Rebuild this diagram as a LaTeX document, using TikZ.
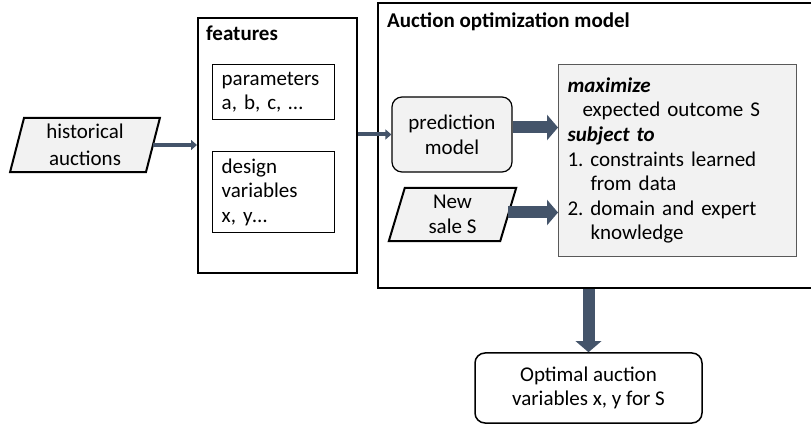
\documentclass[tikz,border=0pt]{standalone}
\usepackage{fontspec}
\setmainfont{Carlito}
\usetikzlibrary{arrows.meta,backgrounds}
\definecolor{arr}{HTML}{44546A}
\definecolor{lg}{HTML}{F2F2F2}
\begin{document}
\frenchspacing
\begin{tikzpicture}[x=1pt,y=-1pt,
  font=\fontsize{21}{24.6}\selectfont\frenchspacing,
  bigbox/.style={draw=black, line width=2.4pt, anchor=north west, inner sep=0pt},
  inbox/.style={draw=black, line width=1.4pt, anchor=north west, inner xsep=9pt, inner ysep=0pt, align=left},
  para/.style={draw=black, line width=2pt, fill=lg, line join=miter},
  rbox/.style={draw=black, line width=1.2pt, fill=lg, rounded corners=10pt, align=center},
  thinarrow/.style={draw=arr, line width=4pt, -{Triangle[length=6pt,width=10pt]}},
  fatarrow/.style={draw=arr, line width=12pt, -{Triangle[length=11pt,width=25pt]}},
  title/.style={anchor=base west, inner sep=0pt, font=\fontsize{21}{24.6}\selectfont\bfseries}
]
\useasboundingbox (0,0) rectangle (811,427);

% outer boxes
\node[bigbox, minimum width=159pt, minimum height=255pt] (feat) at (197,17) {};
\node[title] (feattitle) at (206,41) {features};
\node[bigbox, minimum width=437pt, minimum height=285pt] (aom) at (377,2) {};
\node[title] (aomtitle) at (387,28) {Auction optimization model};

% feature sub-boxes
\node[inbox, text width=104pt, minimum height=55pt] (params) at (212,64)
  {parameters\\a, b, c, …};
\node[inbox, text width=104pt, minimum height=81pt] (design) at (212,151)
  {design\\variables\\x, y…};

% historical auctions (parallelogram)
\node[minimum width=135.5pt, minimum height=54pt, inner sep=0pt, align=center] (hist) at (85,145)
  {historical\\[2pt]auctions};
\begin{scope}[on background layer]
  \draw[para] ([xshift=7pt]hist.north west) -- ([xshift=7pt]hist.north east)
    -- ([xshift=-7pt]hist.south east) -- ([xshift=-7pt]hist.south west) -- cycle;
\end{scope}

% prediction model
\node[rbox, minimum width=120pt, minimum height=75pt, inner sep=0pt] (pred) at (452,134.5)
  {prediction\\model};

% new sale S (parallelogram)
\node[minimum width=111pt, minimum height=53pt, inner sep=0pt, align=center] (sale) at (452.5,214.5)
  {New\\sale S};
\begin{scope}[on background layer]
  \draw[para] ([xshift=8pt]sale.north west) -- ([xshift=8pt]sale.north east)
    -- ([xshift=-8pt]sale.south east) -- ([xshift=-8pt]sale.south west) -- cycle;
\end{scope}

% optimization box
\node[draw=black!65, line width=1pt, fill=lg, anchor=north west, text width=220pt,
      inner xsep=9pt, inner ysep=0pt, minimum height=192pt, align=left] (opt) at (558,64)
  {\textbf{\textit{maximize}}\\
   \hspace*{15pt}expected outcome S\\
   \textbf{\textit{subject to}}\\
   1. constraints learned\\
   \hspace*{23pt}from data\\
   2. domain and expert\\
   \hspace*{23pt}knowledge};

% output
\node[rbox, fill=white, line width=1.5pt, minimum width=227pt, minimum height=70pt, inner sep=0pt] (out) at (588.5,388)
  {Optimal auction\\variables x, y for S};

% connectors
\draw[thinarrow] (hist.east) -- (hist.east -| feat.west);
\draw[thinarrow] (pred.west -| feat.east) -- (pred.west);
\draw[fatarrow] ([yshift=7pt]pred.east) -- ([yshift=7pt]pred.east -| opt.west);
\draw[fatarrow] ([yshift=2pt]sale.east) -- ([yshift=2pt]sale.east -| opt.west);
\draw[fatarrow] (out.north |- aom.south) -- (out.north);
\end{tikzpicture}
\end{document}
